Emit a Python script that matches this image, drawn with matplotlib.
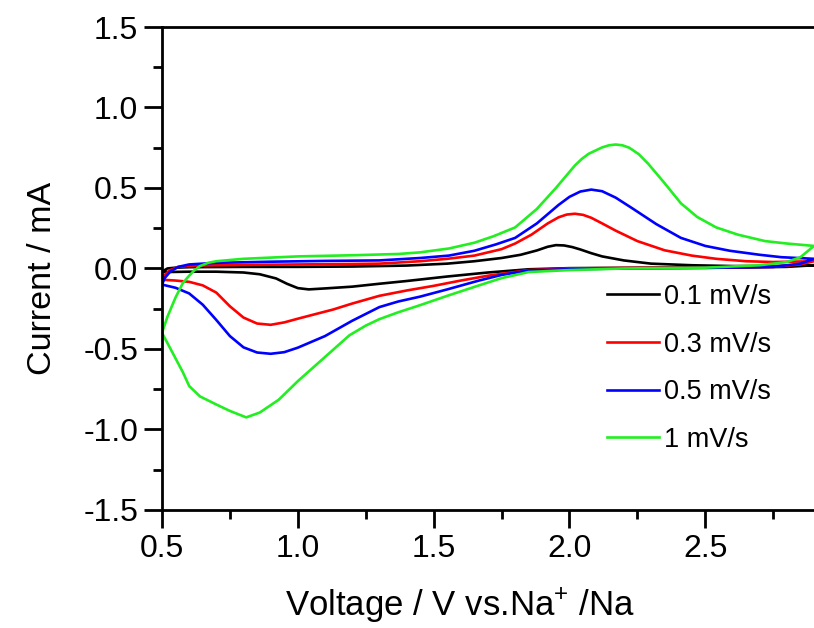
import numpy as np
import matplotlib
matplotlib.use('Agg')
import matplotlib.pyplot as plt
from matplotlib.ticker import MultipleLocator, FormatStrFormatter

plt.rcParams['font.family'] = ['Liberation Sans', 'DejaVu Sans']
plt.rcParams['mathtext.default'] = 'regular'

# Cyclic voltammograms: anodic branch (0.5 -> 2.9 V)
# followed by the cathodic branch (2.9 -> 0.5 V).
# 0.1 mV/s
v01_up_x = [0.50, 0.52, 0.55, 0.60, 0.80, 1.00, 1.20, 1.40, 1.55, 1.65, 1.75, 1.82, 1.88,
            1.92, 1.95, 1.98, 2.01, 2.04, 2.08, 2.12, 2.20, 2.30, 2.45, 2.60, 2.75, 2.90]
v01_up_y = [-0.02, 0.000, 0.005, 0.008, 0.010, 0.010, 0.012, 0.018, 0.030, 0.045, 0.065, 0.085, 0.112,
            0.135, 0.145, 0.143, 0.133, 0.118, 0.095, 0.075, 0.050, 0.030, 0.020, 0.015, 0.015, 0.020]
v01_dn_x = [2.90, 2.80, 2.60, 2.30, 2.00, 1.85, 1.70, 1.55, 1.40, 1.30, 1.20, 1.10, 1.04,
            1.00, 0.96, 0.92, 0.86, 0.80, 0.70, 0.60, 0.52, 0.50]
v01_dn_y = [0.020, 0.010, 0.005, 0.005, 0.002, -0.005, -0.025, -0.050, -0.078, -0.095, -0.113, -0.124, -0.130,
            -0.122, -0.095, -0.062, -0.036, -0.025, -0.020, -0.020, -0.022, -0.020]

# 0.3 mV/s
v03_up_x = [0.50, 0.51, 0.53, 0.56, 0.62, 0.80, 1.00, 1.20, 1.30, 1.45, 1.55, 1.65, 1.75, 1.80,
            1.86, 1.92, 1.96, 1.99, 2.02, 2.05, 2.08, 2.12, 2.17, 2.25, 2.35, 2.45, 2.54, 2.65, 2.75, 2.90]
v03_up_y = [-0.07, -0.04, -0.01, 0.010, 0.018, 0.022, 0.025, 0.028, 0.030, 0.045, 0.060, 0.080, 0.120, 0.155,
            0.210, 0.280, 0.318, 0.335, 0.340, 0.333, 0.315, 0.280, 0.235, 0.170, 0.113, 0.080, 0.060, 0.045, 0.040, 0.045]
v03_dn_x = [2.90, 2.85, 2.75, 2.50, 2.20, 2.00, 1.85, 1.70, 1.60, 1.50, 1.40, 1.30, 1.20, 1.13,
            1.05, 1.00, 0.95, 0.90, 0.85, 0.80, 0.75, 0.70, 0.65, 0.60, 0.55, 0.50]
v03_dn_y = [0.045, 0.025, 0.010, 0.005, 0.003, 0.000, -0.010, -0.045, -0.075, -0.108, -0.137, -0.170, -0.218, -0.255,
            -0.290, -0.312, -0.335, -0.350, -0.342, -0.305, -0.235, -0.150, -0.105, -0.083, -0.075, -0.070]

# 0.5 mV/s
v05_up_x = [0.50, 0.51, 0.53, 0.56, 0.60, 0.70, 0.90, 1.10, 1.30, 1.45, 1.556, 1.65, 1.73, 1.80,
            1.88, 1.96, 2.00, 2.04, 2.08, 2.12, 2.17, 2.23, 2.32, 2.41, 2.50, 2.59, 2.70, 2.78, 2.90]
v05_up_y = [-0.10, -0.06, -0.02, 0.010, 0.025, 0.035, 0.042, 0.047, 0.050, 0.065, 0.080, 0.110, 0.150, 0.190,
            0.280, 0.395, 0.445, 0.478, 0.490, 0.480, 0.440, 0.375, 0.275, 0.190, 0.140, 0.110, 0.085, 0.070, 0.060]
v05_dn_x = [2.90, 2.85, 2.75, 2.50, 2.20, 2.00, 1.85, 1.75, 1.667, 1.55, 1.45, 1.37, 1.30, 1.20,
            1.10, 1.00, 0.95, 0.90, 0.85, 0.80, 0.75, 0.70, 0.65, 0.60, 0.55, 0.50]
v05_dn_y = [0.060, 0.030, 0.010, 0.003, 0.000, -0.005, -0.012, -0.040, -0.075, -0.130, -0.175, -0.205, -0.240, -0.325,
            -0.420, -0.492, -0.520, -0.530, -0.522, -0.490, -0.420, -0.320, -0.225, -0.155, -0.120, -0.100]

# 1 mV/s
v1_up_x = [0.50, 0.52, 0.55, 0.577, 0.60, 0.62, 0.64, 0.67, 0.70, 0.80, 1.00, 1.20, 1.37, 1.45, 1.556, 1.65, 1.72,
           1.80, 1.88, 1.95, 2.02, 2.045, 2.07, 2.12, 2.145, 2.17, 2.195, 2.22, 2.255, 2.29, 2.35, 2.41, 2.47,
           2.54, 2.62, 2.72, 2.80, 2.90]
v1_up_y = [-0.40, -0.30, -0.18, -0.09, -0.045, -0.01, 0.015, 0.035, 0.045, 0.060, 0.075, 0.082, 0.090, 0.100, 0.124,
           0.160, 0.200, 0.255, 0.370, 0.500, 0.640, 0.680, 0.712, 0.752, 0.765, 0.770, 0.765, 0.750, 0.710, 0.650,
           0.530, 0.405, 0.320, 0.255, 0.210, 0.170, 0.155, 0.140]
v1_dn_x = [2.90, 2.85, 2.80, 2.70, 2.50, 2.20, 2.00, 1.85, 1.75, 1.667, 1.55, 1.45, 1.37, 1.30, 1.25, 1.19,
           1.10, 1.00, 0.93, 0.86, 0.81, 0.75, 0.70, 0.64, 0.60, 0.577, 0.53, 0.50]
v1_dn_y = [0.140, 0.070, 0.040, 0.020, 0.005, 0.000, -0.010, -0.022, -0.060, -0.105, -0.170, -0.228, -0.272, -0.315,
           -0.355, -0.415, -0.550, -0.700, -0.815, -0.895, -0.925, -0.885, -0.845, -0.795, -0.730, -0.645, -0.495, -0.400]

labels = ['0.1 mV/s', '0.3 mV/s', '0.5 mV/s', '1 mV/s']
colors = ['#000000', '#ff0000', '#0000ff', '#22ee22']
series = [(v01_up_x + v01_dn_x, v01_up_y + v01_dn_y),
          (v03_up_x + v03_dn_x, v03_up_y + v03_dn_y),
          (v05_up_x + v05_dn_x, v05_up_y + v05_dn_y),
          (v1_up_x + v1_dn_x, v1_up_y + v1_dn_y)]

fig = plt.figure(figsize=(8.14, 6.28), dpi=100)
ax = fig.add_axes([0.199, 0.188, 0.801, 0.769])

for (x, y), c, lab in zip(series, colors, labels):
    ax.plot(x, y, color=c, lw=1.9, label=lab, solid_joinstyle='round')

ax.set_xlim(0.5, 2.9)
ax.set_ylim(-1.5, 1.5)
ax.xaxis.set_major_locator(MultipleLocator(0.5))
ax.xaxis.set_minor_locator(MultipleLocator(0.25))
ax.yaxis.set_major_locator(MultipleLocator(0.5))
ax.yaxis.set_minor_locator(MultipleLocator(0.25))
ax.xaxis.set_major_formatter(FormatStrFormatter('%.1f'))
ax.yaxis.set_major_formatter(FormatStrFormatter('%.1f'))
ax.spines['right'].set_visible(False)
for s in ['left', 'bottom', 'top']:
    ax.spines[s].set_linewidth(2.0)
ax.tick_params(which='major', direction='out', length=13, width=2.0, labelsize=23, pad=4)
ax.tick_params(which='minor', direction='out', length=6.5, width=2.0)
ax.tick_params(top=False, right=False, which='both')

ax.set_xlabel('Voltage / V vs.Na$^{+}$ /Na', fontsize=25, labelpad=17)
ax.set_ylabel('Current / mA', fontsize=24.5, labelpad=18)
# the original axis was cropped on the right, so the labels sit off-centre
ax.xaxis.label.set_x(0.457)
ax.yaxis.label.set_y(0.48)

ax.legend(loc='upper left', bbox_to_anchor=(0.683, 0.468), frameon=False, fontsize=19.5,
          handlelength=1.9, handletextpad=0.2, labelspacing=0.8, borderpad=0, borderaxespad=0)

plt.savefig('out.png', dpi=100)
